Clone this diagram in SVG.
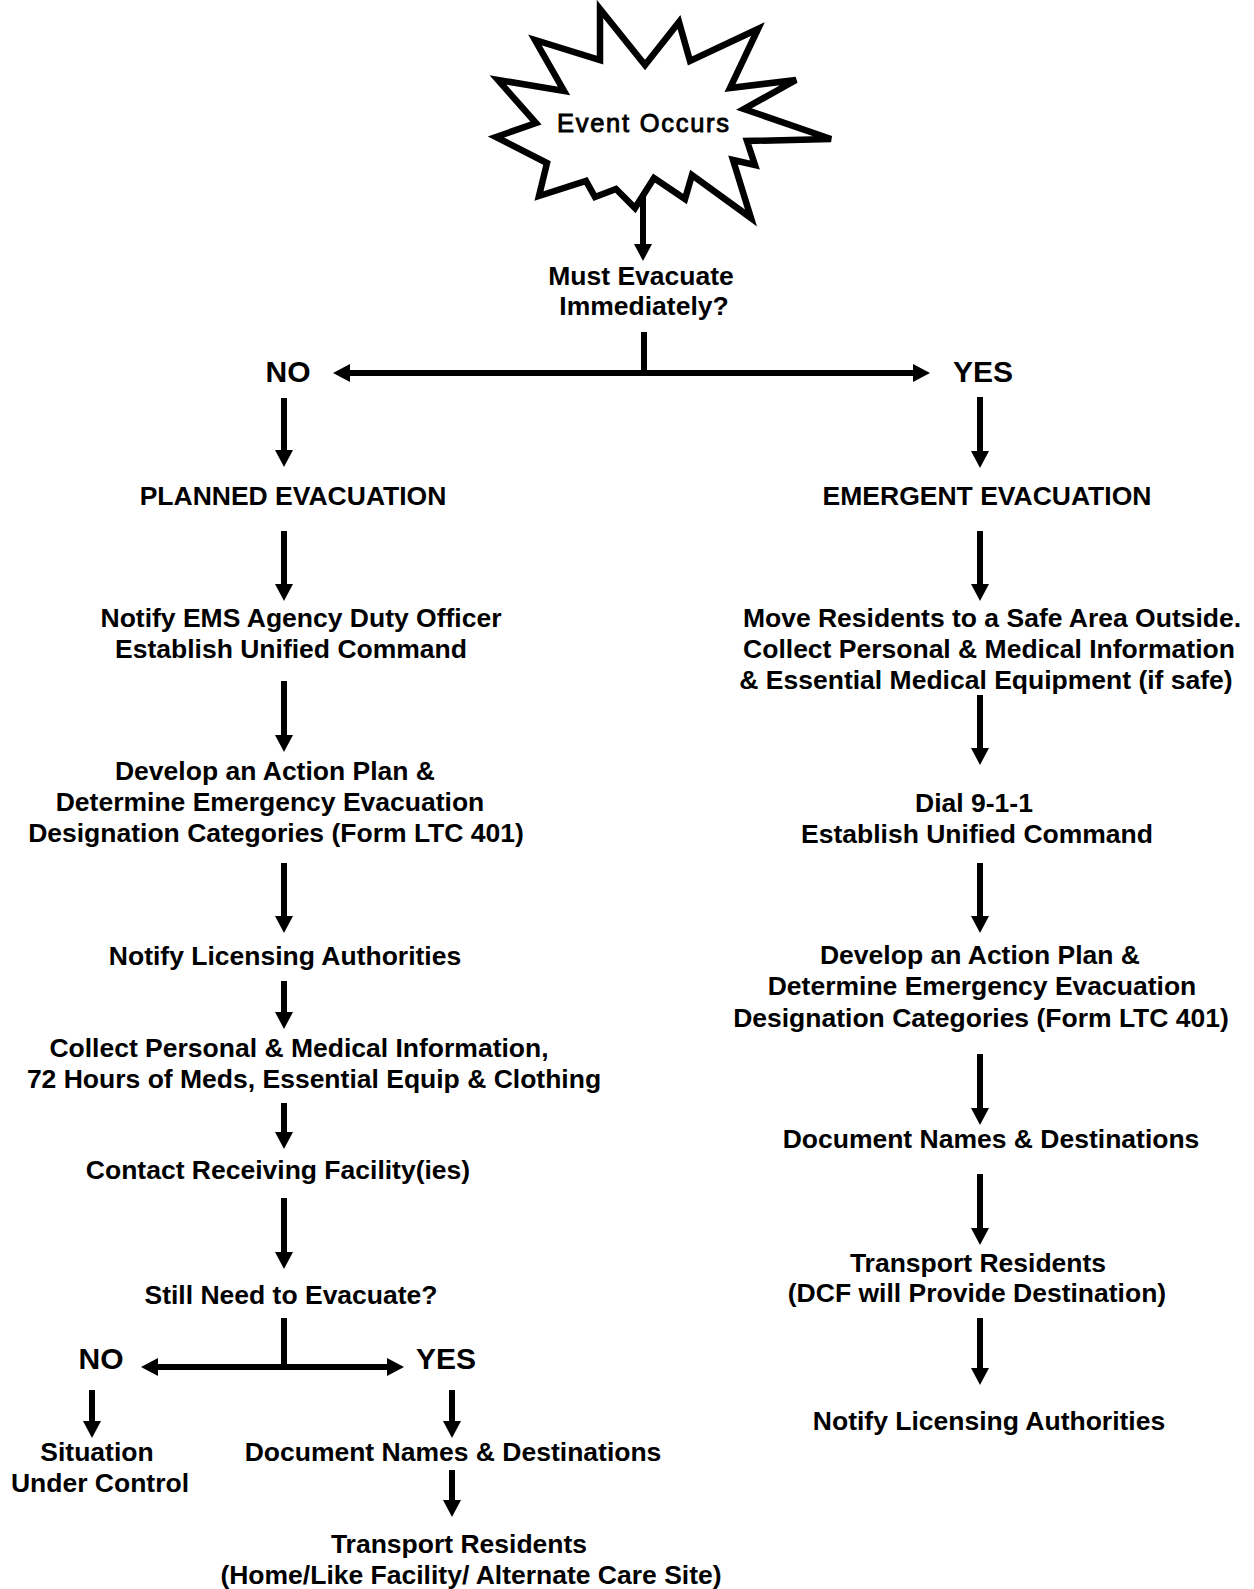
<svg xmlns="http://www.w3.org/2000/svg" width="1254" height="1589" viewBox="0 0 1254 1589">
<style>
.t{font-family:"Liberation Sans",Arial,sans-serif;font-weight:bold;font-size:26.5px;fill:#000;text-anchor:middle}
.yn{font-family:"Liberation Sans",Arial,sans-serif;font-weight:bold;font-size:30px;fill:#000;text-anchor:middle}
.ev{font-family:"Liberation Sans",Arial,sans-serif;font-size:25.5px;fill:#000;stroke:#000;stroke-width:0.9;text-anchor:middle}
.c line{stroke:#000;stroke-width:6;fill:none}
.a{marker-end:url(#ah)}
.d{marker-start:url(#ah);marker-end:url(#ah)}
</style>
<defs>
<marker id="ah" viewBox="0 0 17 18" refX="0" refY="9" markerWidth="17" markerHeight="18" markerUnits="userSpaceOnUse" orient="auto-start-reverse">
<path d="M0,0 L17,9 L0,18 z" fill="#000"/>
</marker>
</defs>
<rect width="1254" height="1589" fill="#fff"/>

<g id="event">
<polygon points="600,9 645,65 679,22 690,61 758,29 730,88 796,80 744,109 831,139 747,141 755,165 733,160 751,218 692,175 685,199 654,178 635,208 616,189 595,197 586,181 539,196 547,163 496,137 536,123 498,80 564,91 535,40 600,60" fill="#fff" stroke="#000" stroke-width="6.5" stroke-linejoin="miter"/>
<text class="ev" x="643" y="132" textLength="172" lengthAdjust="spacing">Event Occurs</text>
</g>

<g class="c" id="connectors">
<line class="a" x1="643" y1="197" x2="643" y2="244"/>
<line x1="644" y1="332" x2="644" y2="376"/>
<line class="d" x1="350" y1="373" x2="913" y2="373"/>
<line class="a" x1="284" y1="398" x2="284" y2="450"/>
<line class="a" x1="284" y1="531" x2="284" y2="584"/>
<line class="a" x1="284" y1="681" x2="284" y2="735"/>
<line class="a" x1="284" y1="863" x2="284" y2="916"/>
<line class="a" x1="284" y1="981" x2="284" y2="1012"/>
<line class="a" x1="284" y1="1103" x2="284" y2="1132"/>
<line class="a" x1="284" y1="1198" x2="284" y2="1252"/>
<line x1="284" y1="1318" x2="284" y2="1367"/>
<line class="d" x1="158" y1="1367" x2="387" y2="1367"/>
<line class="a" x1="92" y1="1390" x2="92" y2="1421"/>
<line class="a" x1="452" y1="1390" x2="452" y2="1421"/>
<line class="a" x1="452" y1="1470" x2="452" y2="1500"/>
<line class="a" x1="980" y1="397" x2="980" y2="451"/>
<line class="a" x1="980" y1="531" x2="980" y2="584"/>
<line class="a" x1="980" y1="695" x2="980" y2="748"/>
<line class="a" x1="980" y1="863" x2="980" y2="916"/>
<line class="a" x1="980" y1="1054" x2="980" y2="1108"/>
<line class="a" x1="980" y1="1174" x2="980" y2="1228"/>
<line class="a" x1="980" y1="1318" x2="980" y2="1368"/>
</g>

<g id="must-evacuate">
<text class="t" x="641" y="285">Must Evacuate</text>
<text class="t" x="644" y="315">Immediately?</text>
</g>
<g id="no-top"><text class="yn" x="288" y="382">NO</text></g>
<g id="yes-top"><text class="yn" x="983" y="382">YES</text></g>

<g id="planned"><text class="t" x="293" y="505">PLANNED EVACUATION</text></g>
<g id="notify-ems">
<text class="t" x="301" y="627">Notify EMS Agency Duty Officer</text>
<text class="t" x="291" y="658">Establish Unified Command</text>
</g>
<g id="action-plan-left">
<text class="t" x="275" y="780">Develop an Action Plan &amp;</text>
<text class="t" x="270" y="811">Determine Emergency Evacuation</text>
<text class="t" x="276" y="842">Designation Categories (Form LTC 401)</text>
</g>
<g id="licensing-left"><text class="t" x="285" y="965">Notify Licensing Authorities</text></g>
<g id="collect-left">
<text class="t" x="299" y="1057">Collect Personal &amp; Medical Information,</text>
<text class="t" x="314" y="1088">72 Hours of Meds, Essential Equip &amp; Clothing</text>
</g>
<g id="contact"><text class="t" x="278" y="1179">Contact Receiving Facility(ies)</text></g>
<g id="still-need"><text class="t" x="291" y="1304">Still Need to Evacuate?</text></g>
<g id="no-bottom"><text class="yn" x="101" y="1369">NO</text></g>
<g id="yes-bottom"><text class="yn" x="446" y="1369">YES</text></g>
<g id="situation">
<text class="t" x="97" y="1461">Situation</text>
<text class="t" x="100" y="1492">Under Control</text>
</g>
<g id="document-left"><text class="t" x="453" y="1461">Document Names &amp; Destinations</text></g>
<g id="transport-left">
<text class="t" x="459" y="1553">Transport Residents</text>
<text class="t" x="471" y="1584">(Home/Like Facility/ Alternate Care Site)</text>
</g>

<g id="emergent"><text class="t" x="987" y="505">EMERGENT EVACUATION</text></g>
<g id="move-residents">
<text class="t" x="992" y="627">Move Residents to a Safe Area Outside.</text>
<text class="t" x="989" y="658">Collect Personal &amp; Medical Information</text>
<text class="t" x="986" y="689">&amp; Essential Medical Equipment (if safe)</text>
</g>
<g id="dial">
<text class="t" x="974" y="812">Dial 9-1-1</text>
<text class="t" x="977" y="843">Establish Unified Command</text>
</g>
<g id="action-plan-right">
<text class="t" x="980" y="964">Develop an Action Plan &amp;</text>
<text class="t" x="982" y="995">Determine Emergency Evacuation</text>
<text class="t" x="981" y="1027">Designation Categories (Form LTC 401)</text>
</g>
<g id="document-right"><text class="t" x="991" y="1148">Document Names &amp; Destinations</text></g>
<g id="transport-right">
<text class="t" x="978" y="1272">Transport Residents</text>
<text class="t" x="977" y="1302">(DCF will Provide Destination)</text>
</g>
<g id="licensing-right"><text class="t" x="989" y="1430">Notify Licensing Authorities</text></g>
</svg>
